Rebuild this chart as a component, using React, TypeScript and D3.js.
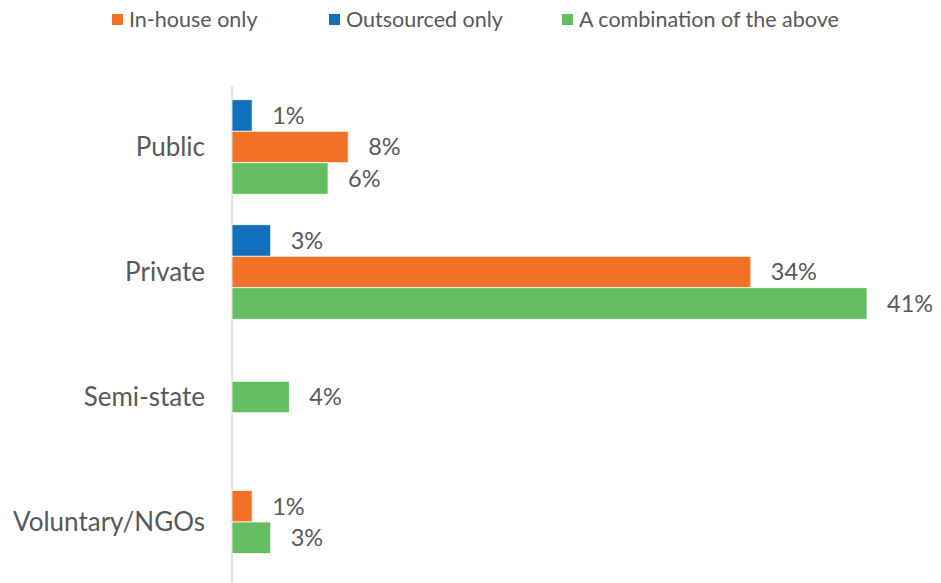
import React from "react";
import * as d3 from "d3";

const categories = ["Public", "Private", "Semi-state", "Voluntary/NGOs"];
const seriesNames = ["Outsourced only", "In-house only", "A combination of the above"];
const outsourced: (number | null)[] = [1.3, 2.5, null, null];
const inHouse: (number | null)[] = [7.5, 33.5, null, 1.3];
const combination: (number | null)[] = [6.2, 41, 3.7, 2.5];
const legendOrder = ["In-house only", "Outsourced only", "A combination of the above"];

const colors: Record<string, string> = {
  "Outsourced only": "#1170BB",
  "In-house only": "#F37124",
  "A combination of the above": "#65BD61",
};

const W = 941;
const H = 583;
const FONT = "Lato, 'Open Sans', sans-serif";
const TEXT = "#595959";

export default function App() {
  const seriesValues = [outsourced, inHouse, combination];
  const x = d3.scaleLinear().domain([0, 41]).range([232, 867]);
  const y = d3.scaleBand<string>().domain(categories).range([84.5, 584.5]).paddingInner(0).paddingOuter(0);
  const barH = 31.5;

  const bars: { cat: string; name: string; v: number; y: number }[] = [];
  categories.forEach((c, ci) => {
    const present = seriesNames
      .map((n, si) => ({ name: n, v: seriesValues[si][ci] }))
      .filter((d) => d.v !== null) as { name: string; v: number }[];
    const center = (y(c) as number) + y.bandwidth() / 2;
    const top = center - (present.length * barH) / 2;
    present.forEach((d, i) => bars.push({ cat: c, name: d.name, v: d.v, y: top + i * barH }));
  });

  const legendX = [112, 329, 562];

  return (
    <svg width={W} height={H} style={{ position: "absolute", left: 0, top: 0, background: "#fff" }}>
      <rect x={0} y={0} width={W} height={H} fill="#fff" />
      {legendOrder.map((n, i) => (
        <g key={n}>
          <rect x={legendX[i]} y={14} width={11} height={11} fill={colors[n]} />
          <text x={legendX[i] + 17} y={19.5} dy="0.36em" fontFamily={FONT} fontSize={21.5} fill={TEXT}>
            {n}
          </text>
        </g>
      ))}
      <line x1={x(0)} x2={x(0)} y1={86} y2={H} stroke="#D9D9D9" strokeWidth={1.5} />
      {bars.map((b, i) => (
        <g key={i}>
          <rect x={x(0)} y={b.y} width={x(b.v) - x(0)} height={barH} fill={colors[b.name]} stroke="#fff" strokeWidth={0.75} />
          <text x={x(b.v) + 20} y={b.y + barH / 2} dy="0.36em" fontFamily={FONT} fontSize={23.5} fill={TEXT}>
            {Math.round(b.v) + "%"}
          </text>
        </g>
      ))}
      {categories.map((c) => (
        <text key={c} x={205} y={(y(c) as number) + y.bandwidth() / 2} dy="0.36em" textAnchor="end" fontFamily={FONT} fontSize={26} fill={TEXT}>
          {c}
        </text>
      ))}
    </svg>
  );
}
